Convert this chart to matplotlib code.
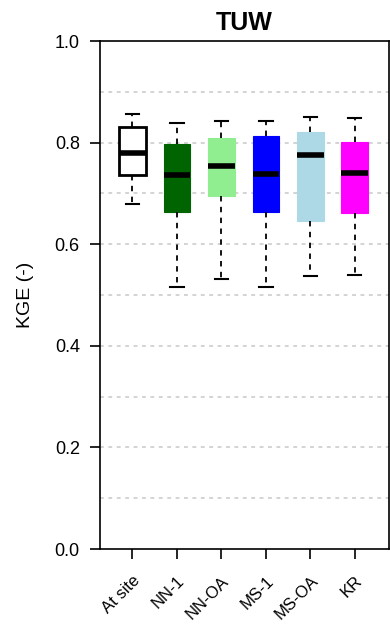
import numpy as np
import matplotlib
matplotlib.use('Agg')
import matplotlib.pyplot as plt

plt.rcParams['font.family'] = ['Liberation Sans', 'DejaVu Sans']

labels = ['At site', 'NN-1', 'NN-OA', 'MS-1', 'MS-OA', 'KR']
whislo = [0.679, 0.516, 0.531, 0.516, 0.537, 0.539]
q1 = [0.736, 0.664, 0.695, 0.664, 0.645, 0.662]
med = [0.780, 0.736, 0.753, 0.739, 0.775, 0.740]
q3 = [0.830, 0.798, 0.809, 0.813, 0.820, 0.801]
whishi = [0.856, 0.839, 0.843, 0.843, 0.850, 0.848]
colors = ['white', '#006400', '#90EE90', '#0000FF', '#ADD8E6', '#FF00FF']

stats = []
for i in range(len(labels)):
    stats.append(dict(label=labels[i], whislo=whislo[i], q1=q1[i], med=med[i],
                      q3=q3[i], whishi=whishi[i], fliers=[]))

fig = plt.figure(figsize=(3.9, 6.3), dpi=100)
ax = fig.add_axes([100/390, 81/630, 289/390, 508/630])

# grid first so boxes sit on top
for g in np.arange(0.1, 1.0, 0.1):
    ax.axhline(g, color='#C8C8C8', lw=1.1, ls=(0, (2.5, 3)), zorder=0)

pos = np.arange(1, len(labels) + 1)
bp = ax.bxp(stats, positions=pos, widths=0.6, capwidths=0.3, patch_artist=True,
            showfliers=False,
            whiskerprops=dict(color='black', lw=1.3, ls=(0, (3, 3))),
            capprops=dict(color='black', lw=1.5),
            medianprops=dict(color='black', lw=4, solid_capstyle='butt'))
for i, b in enumerate(bp['boxes']):
    b.set_facecolor(colors[i])
    if i == 0:
        b.set_edgecolor('black')
        b.set_linewidth(2)
    else:
        b.set_edgecolor(colors[i])
        b.set_linewidth(0.8)
    b.set_zorder(2)

ax.set_xlim(0.27, 6.77)
ax.set_ylim(0, 1)
ax.set_yticks([0.0, 0.2, 0.4, 0.6, 0.8, 1.0])
ax.set_yticklabels(['0.0', '0.2', '0.4', '0.6', '0.8', '1.0'], fontsize=13)
ax.set_xticks(pos)
ax.set_xticklabels(labels, rotation=45, ha='right', rotation_mode='anchor', fontsize=12)
ax.tick_params(axis='both', length=7.5, width=1.2, color='black')
ax.tick_params(axis='y', pad=7)
ax.tick_params(axis='x', pad=10)
for s in ax.spines.values():
    s.set_linewidth(1.2)
ax.set_ylabel('KGE (-)', fontsize=14, labelpad=15)
ax.set_title('TUW', fontsize=18, fontweight='bold', pad=8)

fig.savefig('out.png', dpi=100)
